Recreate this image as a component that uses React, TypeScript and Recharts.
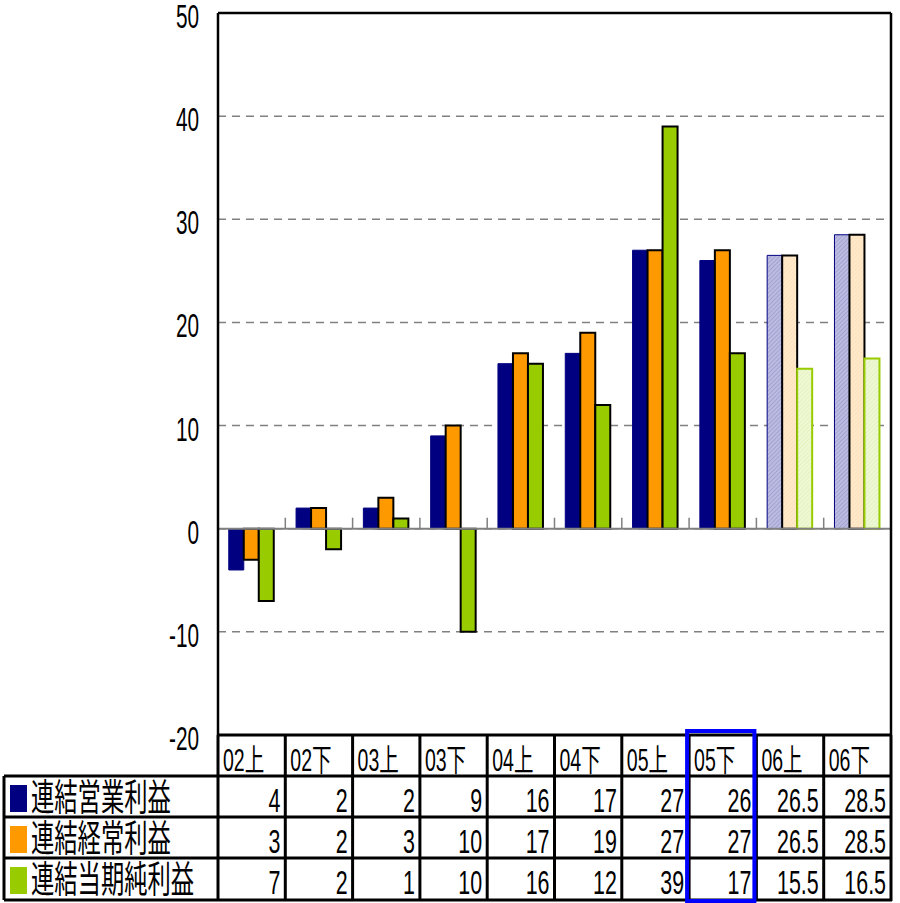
import React from 'react';
import { Bar, BarChart, CartesianGrid, Cell, ReferenceLine, XAxis, YAxis } from 'recharts';

const periods = ['02上', '02下', '03上', '03下', '04上', '04下', '05上', '05下', '06上', '06下'];
const operatingProfit = [-4, 2, 2, 9, 16, 17, 27, 26, 26.5, 28.5];
const ordinaryProfit = [-3, 2, 3, 10, 17, 19, 27, 27, 26.5, 28.5];
const netProfit = [-7, -2, 1, -10, 16, 12, 39, 17, 15.5, 16.5];
const isForecast = [false, false, false, false, false, false, false, false, true, true];
const yTicks = [-20, -10, 0, 10, 20, 30, 40, 50];
const seriesNames = ['連結営業利益', '連結経常利益', '連結当期純利益'];
const highlightIndex = 7;

const W = 900;
const H = 903;
const PLOT_LEFT = 218;
const PLOT_RIGHT = 891;
const PLOT_TOP = 13;
const PLOT_BOTTOM = 735;

const NAVY = '#000080';
const ORANGE = '#FF9900';
const GREEN = '#99CC00';

const FONT = "'Liberation Sans', Arial, 'Noto Sans CJK JP', sans-serif";
const SQUEEZE = 0.63;

const chartData = periods.map((p, i) => ({
  period: p,
  op: operatingProfit[i],
  ord: ordinaryProfit[i],
  net: netProfit[i]
}));

function YTick(props: any) {
  const { y, payload } = props;
  return (
    <text
      transform={`translate(${PLOT_LEFT - 19},${y + 15}) scale(${SQUEEZE},1)`}
      textAnchor="end"
      fontSize={33}
      fontFamily={FONT}
      fill="#000"
    >
      {payload.value}
    </text>
  );
}

function ZeroLine(props: any) {
  const { x1, x2, y1 } = props;
  const band = (x2 - x1) / periods.length;
  return (
    <g>
      <line x1={x1} x2={x2} y1={y1} y2={y1} stroke="#808080" strokeWidth={2} />
      {periods.slice(1).map((p, i) => (
        <line
          key={p}
          x1={x1 + band * (i + 1)}
          x2={x1 + band * (i + 1)}
          y1={y1}
          y2={y1 - 11}
          stroke="#808080"
          strokeWidth={1.5}
        />
      ))}
    </g>
  );
}

function Txt({ x, y, anchor, size, children }: any) {
  return (
    <text
      transform={`translate(${x},${y}) scale(${SQUEEZE},1)`}
      textAnchor={anchor}
      fontSize={size}
      fontFamily={FONT}
      fill="#000"
    >
      {children}
    </text>
  );
}

function DataTable() {
  const colW = (PLOT_RIGHT - PLOT_LEFT) / periods.length;
  const rows = [776, 817, 858, 900];
  const rowValues = [operatingProfit, ordinaryProfit, netProfit];
  const swatch = [NAVY, ORANGE, GREEN];
  const bw = 3;
  return (
    <svg width={W} height={H} style={{ position: 'absolute', left: 0, top: 0, pointerEvents: 'none' }}>
      <rect x={PLOT_LEFT} y={PLOT_BOTTOM} width={PLOT_RIGHT - PLOT_LEFT} height={rows[0] - PLOT_BOTTOM} fill="#fff" />
      <line x1={PLOT_LEFT} x2={PLOT_RIGHT} y1={PLOT_BOTTOM} y2={PLOT_BOTTOM} stroke="#000" strokeWidth={bw} />
      {rows.map((y) => (
        <line key={y} x1={4} x2={PLOT_RIGHT + 1} y1={y} y2={y} stroke="#000" strokeWidth={bw} />
      ))}
      <line x1={4} x2={4} y1={rows[0]} y2={rows[3]} stroke="#000" strokeWidth={bw} />
      {periods.map((p, i) => (
        <line
          key={p}
          x1={PLOT_LEFT + colW * i}
          x2={PLOT_LEFT + colW * i}
          y1={PLOT_BOTTOM}
          y2={rows[3]}
          stroke="#000"
          strokeWidth={bw}
        />
      ))}
      <line x1={PLOT_RIGHT} x2={PLOT_RIGHT} y1={PLOT_BOTTOM} y2={rows[3] + 1} stroke="#000" strokeWidth={bw} />

      {periods.map((p, i) => (
        <Txt key={p} x={PLOT_LEFT + colW * i + 5} y={771} anchor="start" size={31}>
          {p}
        </Txt>
      ))}

      {rowValues.map((vals, r) => (
        <g key={seriesNames[r]}>
          <rect x={10} y={rows[r] + 9} width={17} height={27} fill={swatch[r]} />
          <Txt x={31} y={rows[r] + 35} anchor="start" size={37}>
            {seriesNames[r]}
          </Txt>
          {vals.map((v, i) => (
            <Txt key={i} x={PLOT_LEFT + colW * (i + 1) - 5} y={rows[r] + 36} anchor="end" size={34}>
              {Math.abs(v)}
            </Txt>
          ))}
        </g>
      ))}

      <rect
        x={PLOT_LEFT + colW * highlightIndex - 2}
        y={731}
        width={colW}
        height={170}
        fill="none"
        stroke="#0000FF"
        strokeWidth={4}
      />
    </svg>
  );
}

export default function App() {
  return (
    <div style={{ position: 'absolute', left: 0, top: 0, width: W, height: H, background: '#fff' }}>
      <BarChart
        width={W}
        height={H}
        data={chartData}
        margin={{ top: PLOT_TOP, right: 0, left: 0, bottom: H - PLOT_BOTTOM }}
        barCategoryGap="16%"
        barGap={0}
      >
        <defs>
          <pattern id="hatchNavy" width="3" height="3" patternUnits="userSpaceOnUse" patternTransform="rotate(45)">
            <rect width="3" height="3" fill="#bcbce0" />
            <line x1="0" y1="0" x2="0" y2="3" stroke="#9090cc" strokeWidth="1.2" />
          </pattern>
          <pattern id="hatchOrange" width="3" height="3" patternUnits="userSpaceOnUse" patternTransform="rotate(45)">
            <rect width="3" height="3" fill="#ffe9cc" />
            <line x1="0" y1="0" x2="0" y2="3" stroke="#ffdcaa" strokeWidth="1.2" />
          </pattern>
          <pattern id="hatchGreen" width="3" height="3" patternUnits="userSpaceOnUse" patternTransform="rotate(45)">
            <rect width="3" height="3" fill="#eff8d6" />
            <line x1="0" y1="0" x2="0" y2="3" stroke="#ddf0ac" strokeWidth="1.2" />
          </pattern>
        </defs>
        <CartesianGrid vertical={false} stroke="#808080" strokeWidth={1.5} strokeDasharray="8 6" />
        <XAxis dataKey="period" hide />
        <YAxis
          width={PLOT_LEFT}
          domain={[-20, 50]}
          ticks={yTicks}
          interval={0}
          tickLine={false}
          tick={<YTick />}
          axisLine={{ stroke: '#000', strokeWidth: 2.5 }}
        />
        <YAxis
          yAxisId="frame"
          orientation="right"
          width={W - PLOT_RIGHT}
          domain={[-20, 50]}
          tick={false}
          tickLine={false}
          axisLine={{ stroke: '#000', strokeWidth: 2.5 }}
        />
        <ReferenceLine y={50} stroke="#000" strokeWidth={2.5} />
        <ReferenceLine y={0} shape={<ZeroLine />} />
        <Bar dataKey="op" isAnimationActive={false}>
          {chartData.map((d, i) => (
            <Cell
              key={d.period}
              fill={isForecast[i] ? 'url(#hatchNavy)' : NAVY}
              stroke={NAVY}
              strokeWidth={1}
            />
          ))}
        </Bar>
        <Bar dataKey="ord" isAnimationActive={false}>
          {chartData.map((d, i) => (
            <Cell
              key={d.period}
              fill={isForecast[i] ? 'url(#hatchOrange)' : ORANGE}
              stroke="#000"
              strokeWidth={2}
            />
          ))}
        </Bar>
        <Bar dataKey="net" isAnimationActive={false}>
          {chartData.map((d, i) => (
            <Cell
              key={d.period}
              fill={isForecast[i] ? 'url(#hatchGreen)' : GREEN}
              stroke={isForecast[i] ? GREEN : '#000'}
              strokeWidth={2}
            />
          ))}
        </Bar>
      </BarChart>
      <DataTable />
    </div>
  );
}
